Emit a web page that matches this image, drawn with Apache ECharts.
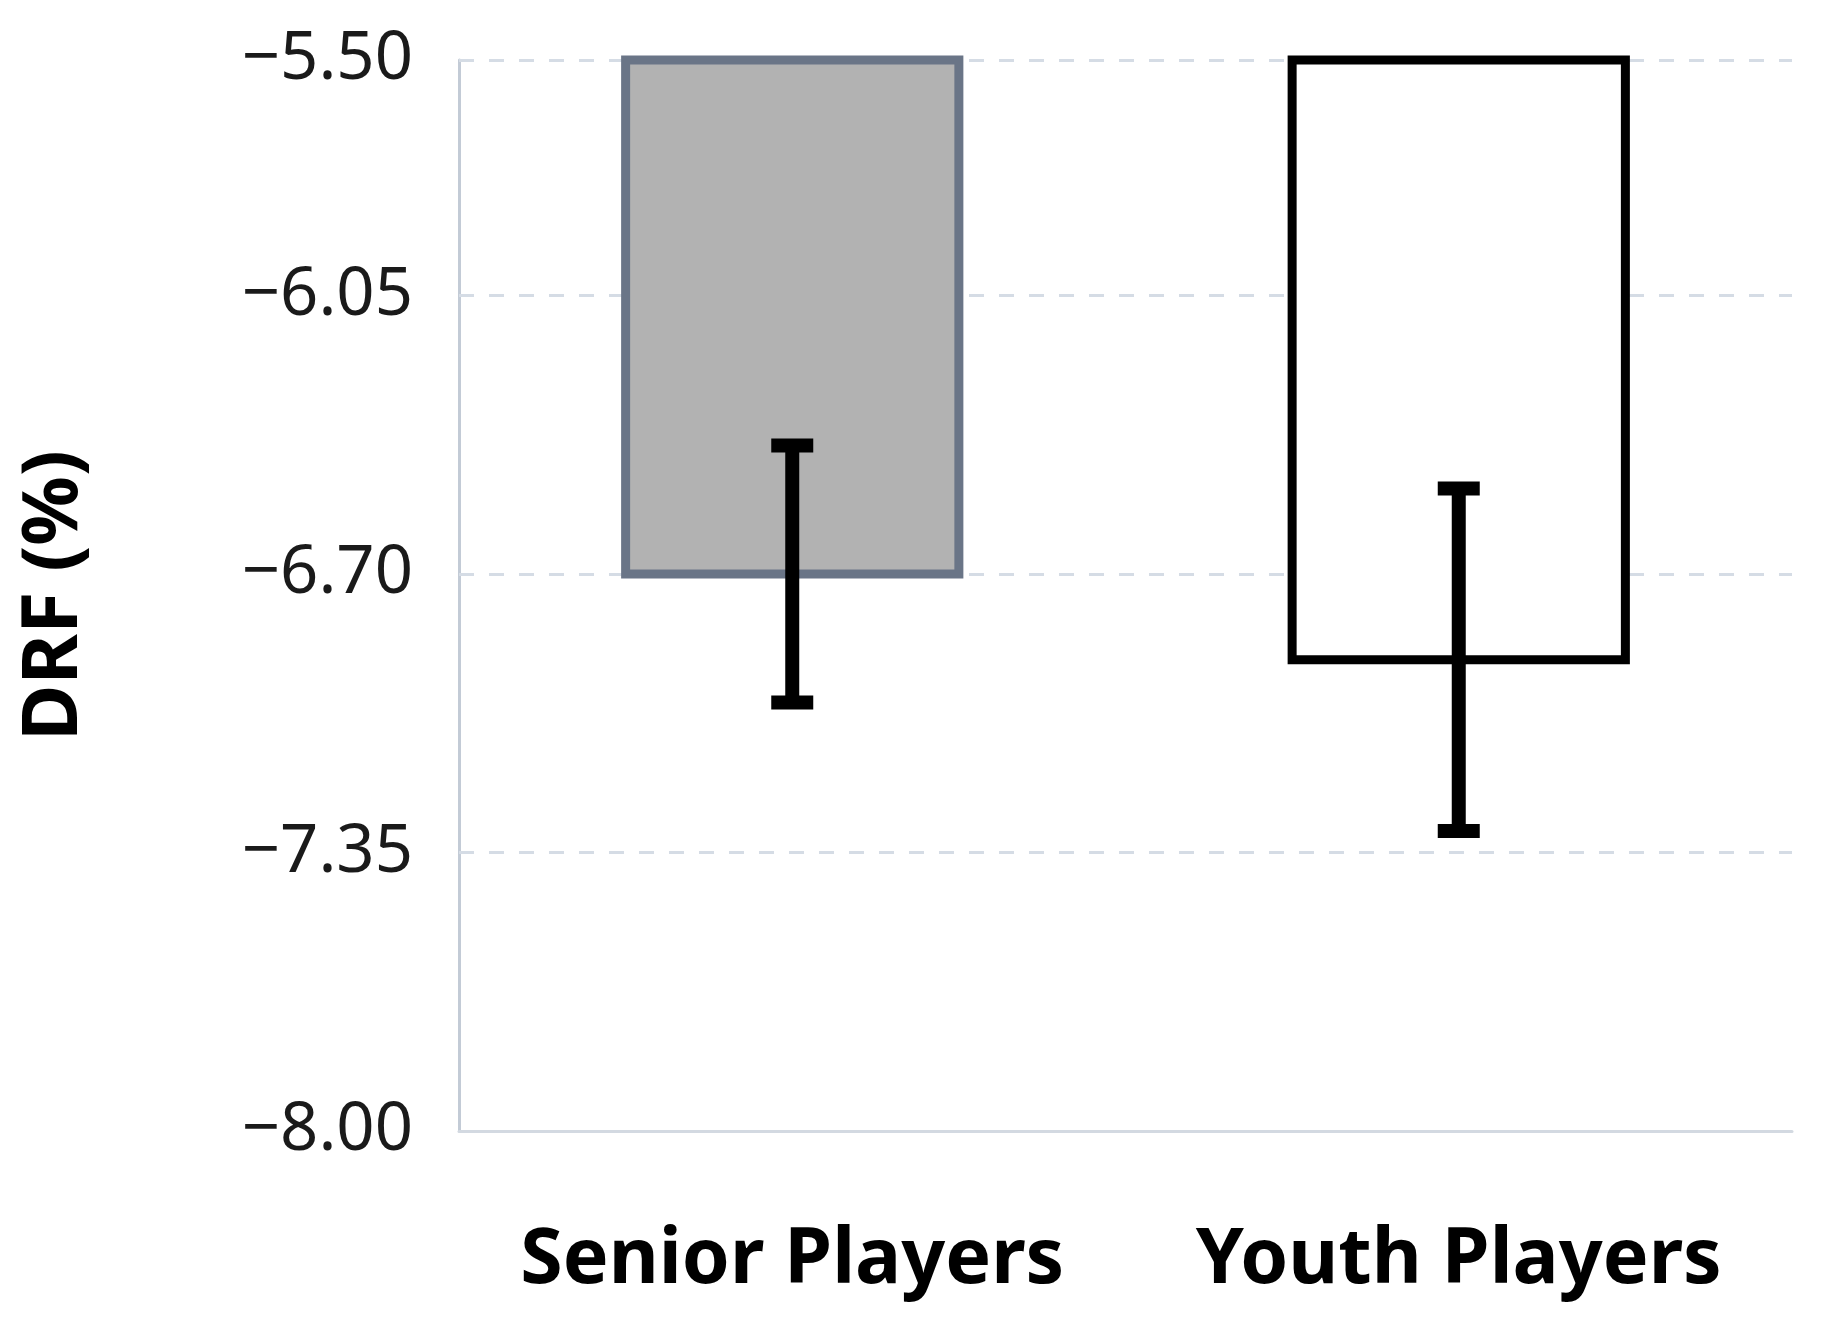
<!DOCTYPE html>
<html>
<head>
<meta charset="utf-8">
<script src="https://cdn.jsdelivr.net/npm/echarts@6/dist/echarts.min.js"></script>
<style>
html,body{margin:0;padding:0;background:#fff;}
#chart{width:1828px;height:1323px;}
</style>
</head>
<body>
<div id="chart"></div>
<script>
const categories = ['Senior Players', 'Youth Players'];
const meanValues = [-6.70, -6.90];
const errLow = [-7.00, -7.30];
const errHigh = [-6.40, -6.50];
const tickValues = [-8.00, -7.35, -6.70, -6.05, -5.50];
const tickLabels = ['\u22128.00', '\u22127.35', '\u22126.70', '\u22126.05', '\u22125.50'];
const axisMin = -8.00;
const axisMax = -5.50;
const yTitle = 'DRF (%)';

const barStyles = [
  {fill: '#b2b2b2', stroke: '#6a7587'},
  {fill: '#ffffff', stroke: '#000000'}
];

const chart = echarts.init(document.getElementById('chart'), null, {renderer: 'canvas'});

const option = {
  backgroundColor: '#ffffff',
  animation: false,
  grid: {left: 459, right: 36, top: 60, bottom: 192, containLabel: false},
  xAxis: {
    type: 'category',
    data: categories,
    axisLine: {onZero: false, lineStyle: {color: '#d3d9e1', width: 3}},
    axisTick: {show: false},
    axisLabel: {
      interval: 0,
      hideOverlap: false,
      margin: 92,
      fontFamily: 'Noto Sans',
      fontWeight: 'bold',
      fontSize: 77,
      color: '#000'
    },
    splitLine: {show: false}
  },
  yAxis: {
    type: 'value',
    min: axisMin,
    max: axisMax,
    name: yTitle,
    nameLocation: 'middle',
    nameGap: 365,
    nameRotate: 90,
    nameTextStyle: {
      fontFamily: 'Noto Sans',
      fontWeight: 'bold',
      fontSize: 77,
      color: '#000'
    },
    axisLine: {show: true, lineStyle: {color: '#c3cbd6', width: 3}},
    axisTick: {show: false},
    splitLine: {show: false},
    axisLabel: {
      customValues: tickValues,
      margin: 46,
      fontFamily: 'Noto Sans',
      fontSize: 67,
      color: '#1a1a1a',
      formatter: function (v) {
        for (let i = 0; i < tickValues.length; i++) {
          if (Math.abs(tickValues[i] - v) < 1e-6) return tickLabels[i];
        }
        return '';
      }
    }
  },
  series: [
    {
      type: 'line',
      data: [],
      z: 1,
      silent: true,
      markLine: {
        z: 1,
        silent: true,
        symbol: ['none', 'none'],
        label: {show: false},
        lineStyle: {color: '#d5dce5', width: 3, type: [15, 15]},
        data: tickValues.filter(v => v !== axisMin).map(v => ({yAxis: v}))
      }
    },
    {
      type: 'custom',
      z: 3,
      data: meanValues.map((v, i) => [i, v]),
      renderItem: function (params, api) {
        const idx = api.value(0);
        const val = api.value(1);
        const top = api.coord([idx, axisMax]);
        const bot = api.coord([idx, val]);
        const w = api.size([1, 0])[0] * 0.5;
        const st = barStyles[idx];
        return {
          type: 'rect',
          shape: {x: top[0] - w / 2, y: top[1], width: w, height: bot[1] - top[1]},
          style: {fill: st.fill, stroke: st.stroke, lineWidth: 9}
        };
      }
    },
    {
      type: 'custom',
      z: 4,
      data: meanValues.map((v, i) => [i, errLow[i], errHigh[i]]),
      renderItem: function (params, api) {
        const idx = api.value(0);
        const lo = api.coord([idx, api.value(1)]);
        const hi = api.coord([idx, api.value(2)]);
        const capW = 42;
        const lw = 14;
        const x = lo[0];
        return {
          type: 'group',
          children: [
            {type: 'line', shape: {x1: x, y1: hi[1], x2: x, y2: lo[1]}, style: {stroke: '#000', lineWidth: lw, lineCap: 'butt'}},
            {type: 'line', shape: {x1: x - capW / 2, y1: hi[1], x2: x + capW / 2, y2: hi[1]}, style: {stroke: '#000', lineWidth: lw, lineCap: 'butt'}},
            {type: 'line', shape: {x1: x - capW / 2, y1: lo[1], x2: x + capW / 2, y2: lo[1]}, style: {stroke: '#000', lineWidth: lw, lineCap: 'butt'}}
          ]
        };
      }
    }
  ]
};

chart.setOption(option);
</script>
</body>
</html>
